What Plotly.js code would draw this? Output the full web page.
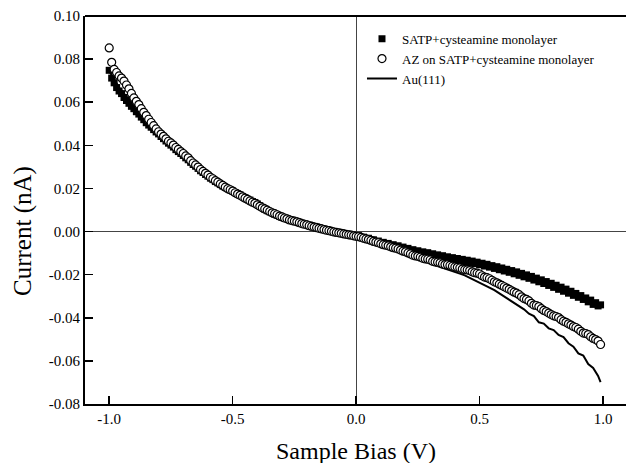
<!DOCTYPE html>
<html>
<head>
<meta charset="utf-8">
<script src="https://cdn.plot.ly/plotly-3.0.1.min.js"></script>
<style>html,body{margin:0;padding:0;background:#fff;}#chart{width:626px;height:463px;}</style>
</head>
<body>
<div id="chart"></div>
<script>
// Sample bias (V), 0.01 V steps, for the marker series
const biasFine = [
-1.00,-0.99,-0.98,-0.97,-0.96,-0.95,-0.94,-0.93,-0.92,-0.91,
-0.90,-0.89,-0.88,-0.87,-0.86,-0.85,-0.84,-0.83,-0.82,-0.81,
-0.80,-0.79,-0.78,-0.77,-0.76,-0.75,-0.74,-0.73,-0.72,-0.71,
-0.70,-0.69,-0.68,-0.67,-0.66,-0.65,-0.64,-0.63,-0.62,-0.61,
-0.60,-0.59,-0.58,-0.57,-0.56,-0.55,-0.54,-0.53,-0.52,-0.51,
-0.50,-0.49,-0.48,-0.47,-0.46,-0.45,-0.44,-0.43,-0.42,-0.41,
-0.40,-0.39,-0.38,-0.37,-0.36,-0.35,-0.34,-0.33,-0.32,-0.31,
-0.30,-0.29,-0.28,-0.27,-0.26,-0.25,-0.24,-0.23,-0.22,-0.21,
-0.20,-0.19,-0.18,-0.17,-0.16,-0.15,-0.14,-0.13,-0.12,-0.11,
-0.10,-0.09,-0.08,-0.07,-0.06,-0.05,-0.04,-0.03,-0.02,-0.01,
0.00,0.01,0.02,0.03,0.04,0.05,0.06,0.07,0.08,0.09,
0.10,0.11,0.12,0.13,0.14,0.15,0.16,0.17,0.18,0.19,
0.20,0.21,0.22,0.23,0.24,0.25,0.26,0.27,0.28,0.29,
0.30,0.31,0.32,0.33,0.34,0.35,0.36,0.37,0.38,0.39,
0.40,0.41,0.42,0.43,0.44,0.45,0.46,0.47,0.48,0.49,
0.50,0.51,0.52,0.53,0.54,0.55,0.56,0.57,0.58,0.59,
0.60,0.61,0.62,0.63,0.64,0.65,0.66,0.67,0.68,0.69,
0.70,0.71,0.72,0.73,0.74,0.75,0.76,0.77,0.78,0.79,
0.80,0.81,0.82,0.83,0.84,0.85,0.86,0.87,0.88,0.89,
0.90,0.91,0.92,0.93,0.94,0.95,0.96,0.97,0.98,0.99,
1.00];

// SATP+cysteamine monolayer, current (nA)
const satp = [
0.0748,0.0712,0.0690,0.0668,0.0652,0.0640,0.0622,0.0608,0.0595,0.0581,
0.0570,0.0556,0.0545,0.0531,0.0519,0.0505,0.0494,0.0484,0.0473,0.0462,
0.0453,0.0441,0.0431,0.0420,0.0410,0.0401,0.0392,0.0380,0.0371,0.0362,
0.0353,0.0342,0.0333,0.0321,0.0311,0.0303,0.0293,0.0282,0.0274,0.0265,
0.0257,0.0248,0.0241,0.0232,0.0226,0.0218,0.0211,0.0205,0.0200,0.0193,
0.0188,0.0181,0.0175,0.0170,0.0163,0.0157,0.0150,0.0146,0.0140,0.0135,
0.0128,0.0120,0.0112,0.0104,0.0097,0.0092,0.0087,0.0081,0.0076,0.0071,
0.0066,0.0063,0.0060,0.0056,0.0052,0.0050,0.0047,0.0043,0.0039,0.0037,
0.0033,0.0030,0.0026,0.0024,0.0021,0.0018,0.0014,0.0012,0.0009,0.0006,
0.0002,0.0000,-0.0003,-0.0004,-0.0006,-0.0009,-0.0012,-0.0013,-0.0015,-0.0018,
-0.0021,-0.0019,-0.0027,-0.0026,-0.0034,-0.0031,-0.0040,-0.0038,-0.0047,-0.0044,
-0.0053,-0.0050,-0.0059,-0.0055,-0.0064,-0.0061,-0.0070,-0.0066,-0.0076,-0.0072,
-0.0082,-0.0078,-0.0088,-0.0084,-0.0093,-0.0089,-0.0099,-0.0094,-0.0104,-0.0098,
-0.0108,-0.0103,-0.0113,-0.0108,-0.0118,-0.0112,-0.0123,-0.0117,-0.0127,-0.0121,
-0.0131,-0.0125,-0.0135,-0.0129,-0.0140,-0.0133,-0.0144,-0.0137,-0.0149,-0.0142,
-0.0154,-0.0147,-0.0160,-0.0152,-0.0165,-0.0158,-0.0171,-0.0163,-0.0177,-0.0169,
-0.0183,-0.0175,-0.0189,-0.0181,-0.0196,-0.0187,-0.0203,-0.0194,-0.0210,-0.0201,
-0.0217,-0.0208,-0.0225,-0.0216,-0.0233,-0.0224,-0.0241,-0.0232,-0.0250,-0.0240,
-0.0259,-0.0249,-0.0268,-0.0258,-0.0277,-0.0267,-0.0286,-0.0277,-0.0296,-0.0287,
-0.0305,-0.0297,-0.0315,-0.0308,-0.0326,-0.0318,-0.0338,-0.0330,-0.0345,-0.0340,
null];

// AZ on SATP+cysteamine monolayer, current (nA)
const azSatp = [
0.0852,0.0785,0.0752,0.0738,0.0722,0.0712,0.0698,0.0680,0.0662,0.0641,
0.0620,0.0604,0.0589,0.0570,0.0553,0.0538,0.0521,0.0506,0.0491,0.0476,
0.0463,0.0452,0.0442,0.0430,0.0419,0.0411,0.0401,0.0390,0.0381,0.0371,
0.0362,0.0351,0.0342,0.0329,0.0318,0.0309,0.0299,0.0288,0.0279,0.0270,
0.0262,0.0252,0.0245,0.0236,0.0229,0.0221,0.0214,0.0206,0.0199,0.0194,
0.0188,0.0180,0.0174,0.0168,0.0161,0.0155,0.0149,0.0142,0.0136,0.0131,
0.0124,0.0117,0.0110,0.0105,0.0099,0.0093,0.0087,0.0083,0.0078,0.0072,
0.0068,0.0063,0.0059,0.0054,0.0051,0.0048,0.0045,0.0041,0.0037,0.0034,
0.0031,0.0027,0.0024,0.0021,0.0018,0.0015,0.0012,0.0009,0.0006,0.0004,
0.0001,-0.0002,-0.0004,-0.0006,-0.0008,-0.0011,-0.0013,-0.0015,-0.0017,-0.0020,
-0.0022,-0.0024,-0.0027,-0.0031,-0.0034,-0.0037,-0.0041,-0.0046,-0.0049,-0.0052,
-0.0057,-0.0061,-0.0063,-0.0066,-0.0071,-0.0075,-0.0077,-0.0081,-0.0086,-0.0091,
-0.0094,-0.0099,-0.0104,-0.0110,-0.0113,-0.0115,-0.0119,-0.0124,-0.0127,-0.0128,
-0.0132,-0.0138,-0.0141,-0.0142,-0.0145,-0.0150,-0.0153,-0.0154,-0.0157,-0.0161,
-0.0164,-0.0166,-0.0169,-0.0174,-0.0177,-0.0178,-0.0181,-0.0187,-0.0191,-0.0193,
-0.0197,-0.0205,-0.0211,-0.0214,-0.0219,-0.0226,-0.0233,-0.0238,-0.0244,-0.0250,
-0.0256,-0.0262,-0.0268,-0.0275,-0.0281,-0.0286,-0.0293,-0.0303,-0.0311,-0.0315,
-0.0322,-0.0333,-0.0341,-0.0343,-0.0348,-0.0358,-0.0366,-0.0371,-0.0378,-0.0385,
-0.0391,-0.0394,-0.0399,-0.0409,-0.0416,-0.0421,-0.0428,-0.0434,-0.0441,-0.0445,
-0.0453,-0.0463,-0.0471,-0.0473,-0.0478,-0.0488,-0.0496,-0.0501,-0.0508,-0.0524,
null];

// Au(111), sample bias in 0.02 V steps
const biasLine = [-1.00,-0.98,-0.96,-0.94,-0.92,-0.90,-0.88,-0.86,-0.84,-0.82,
-0.80,-0.78,-0.76,-0.74,-0.72,-0.70,-0.68,-0.66,-0.64,-0.62,
-0.60,-0.58,-0.56,-0.54,-0.52,-0.50,-0.48,-0.46,-0.44,-0.42,
-0.40,-0.38,-0.36,-0.34,-0.32,-0.30,-0.28,-0.26,-0.24,-0.22,
-0.20,-0.18,-0.16,-0.14,-0.12,-0.10,-0.08,-0.06,-0.04,-0.02,
0.00,0.02,0.04,0.06,0.08,0.10,0.12,0.14,0.16,0.18,
0.20,0.22,0.24,0.26,0.28,0.30,0.32,0.34,0.36,0.38,
0.40,0.42,0.44,0.46,0.48,0.50,0.52,0.54,0.56,0.58,
0.60,0.62,0.64,0.66,0.68,0.70,0.72,0.74,0.76,0.78,
0.80,0.82,0.84,0.86,0.88,0.90,0.92,0.94,0.96,0.98,0.99];

const au111 = [0.0745,0.0705,0.0668,0.0640,0.0610,0.0585,0.0560,0.0530,0.0505,0.0482,
0.0458,0.0436,0.0413,0.0394,0.0374,0.0356,0.0335,0.0314,0.0295,0.0275,
0.0259,0.0241,0.0226,0.0212,0.0200,0.0188,0.0175,0.0162,0.0150,0.0138,
0.0126,0.0111,0.0098,0.0087,0.0077,0.0067,0.0060,0.0052,0.0046,0.0038,
0.0032,0.0025,0.0019,0.0013,0.0007,0.0001,-0.0004,-0.0009,-0.0014,-0.0019,
-0.0024,-0.0030,-0.0037,-0.0044,-0.0052,-0.0060,-0.0067,-0.0075,-0.0083,-0.0091,
-0.0101,-0.0111,-0.0121,-0.0130,-0.0139,-0.0148,-0.0157,-0.0164,-0.0172,-0.0179,
-0.0186,-0.0195,-0.0203,-0.0214,-0.0224,-0.0236,-0.0246,-0.0260,-0.0272,-0.0287,
-0.0300,-0.0316,-0.0328,-0.0345,-0.0361,-0.0381,-0.0392,-0.0421,-0.0427,-0.0449,
-0.0457,-0.0480,-0.0490,-0.0518,-0.0534,-0.0565,-0.0575,-0.0615,-0.0633,-0.0670,-0.0698];

const seriesNames = ['SATP+cysteamine monolayer','AZ on SATP+cysteamine monolayer','Au(111)'];
const xTitle = 'Sample Bias (V)';
const yTitle = 'Current (nA)';
const xTickVals = [-1.0,-0.5,0.0,0.5,1.0];
const xTickText = ['-1.0','-0.5','0.0','0.5','1.0'];
const yTickVals = [-0.08,-0.06,-0.04,-0.02,0.00,0.02,0.04,0.06,0.08,0.10];
const yTickText = ['-0.08','-0.06','-0.04','-0.02','0.00','0.02','0.04','0.06','0.08','0.10'];

const serif = 'Liberation Serif, Times New Roman, serif';

const traces = [
  {x: biasLine, y: au111, name: seriesNames[2], type: 'scatter', mode: 'lines',
   line: {color: '#000', width: 2}, legendrank: 3},
  {x: biasFine, y: satp, name: seriesNames[0], type: 'scatter', mode: 'markers',
   marker: {symbol: 'square', size: 7, color: '#000', line: {width: 0}}, legendrank: 1},
  {x: biasFine, y: azSatp, name: seriesNames[1], type: 'scatter', mode: 'markers',
   marker: {symbol: 'circle', size: 8, color: '#fff', line: {color: '#000', width: 1.2}}, legendrank: 2}
];

const layout = {
  width: 626, height: 463,
  margin: {l: 85, r: 0, t: 16, b: 59},
  paper_bgcolor: '#fff', plot_bgcolor: '#fff',
  font: {family: serif, color: '#000', size: 15},
  showlegend: true,
  legend: {x: 0.512, y: 0.98, xanchor: 'left', yanchor: 'top', bgcolor: 'rgba(0,0,0,0)',
           font: {family: serif, size: 13, color: '#000'}, tracegroupgap: 0},
  xaxis: {range: [-1.098, 1.093], showgrid: false, zeroline: true, zerolinecolor: '#444', zerolinewidth: 1,
          showline: true, linecolor: '#000', linewidth: 2, ticks: 'inside', ticklen: 8, tickwidth: 1.5, tickcolor: '#000',
          tickvals: xTickVals, ticktext: xTickText, tickfont: {family: serif, size: 15}},
  yaxis: {range: [-0.08, 0.10], showgrid: false, zeroline: true, zerolinecolor: '#444', zerolinewidth: 1,
          showline: true, linecolor: '#000', linewidth: 2, ticks: 'inside', ticklen: 8, tickwidth: 1.5, tickcolor: '#000',
          tickvals: yTickVals, ticktext: yTickText, tickfont: {family: serif, size: 15}},
  shapes: [{type: 'line', xref: 'paper', yref: 'paper', x0: 0, x1: 1, y0: 1, y1: 1, line: {color: '#000', width: 2}}],
  annotations: [
    {text: xTitle, xref: 'paper', yref: 'paper', x: 0.5, y: -0.121, xanchor: 'center', yanchor: 'middle',
     showarrow: false, font: {family: serif, size: 24, color: '#000'}},
    {text: yTitle, xref: 'paper', yref: 'paper', x: -0.1146, y: 0.446, xanchor: 'center', yanchor: 'middle',
     textangle: -90, showarrow: false, font: {family: serif, size: 25, color: '#000'}}
  ]
};

Plotly.newPlot('chart', traces, layout, {displayModeBar: false, staticPlot: true});
</script>
</body>
</html>
